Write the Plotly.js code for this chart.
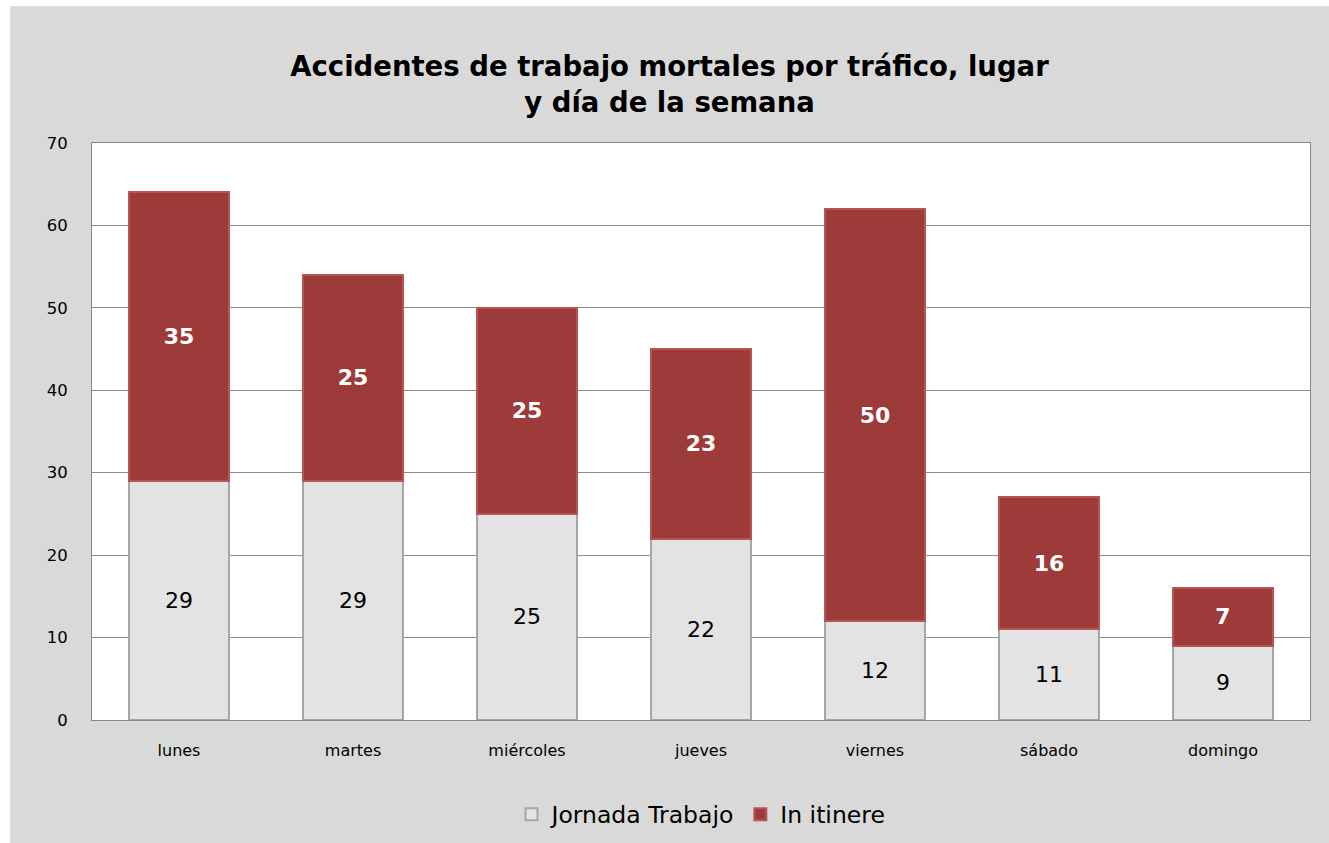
<!DOCTYPE html>
<html><head><meta charset="utf-8">
<script src="https://cdn.plot.ly/plotly-3.0.1.min.js"></script>
<style>
html,body{margin:0;padding:0;background:#fff;}
#chart{position:absolute;left:10px;top:6px;width:1319px;height:837px;}
</style></head>
<body><div id="chart"></div>
<script>
const dias = ["lunes","martes","miércoles","jueves","viernes","sábado","domingo"];
const jornadaTrabajo = [29,29,25,22,12,11,9];
const inItinere = [35,25,25,23,50,16,7];
const yTicks = [0,10,20,30,40,50,60,70];

const FONT = "DejaVu Sans, Verdana, sans-serif";

const traces = [
  {
    type: "bar", name: "Jornada Trabajo", x: dias, y: jornadaTrabajo,
    text: jornadaTrabajo.map(String), textposition: "inside", insidetextanchor: "middle",
    textfont: {family: FONT, size: 22, color: "#000"},
    marker: {color: "#e3e3e3", line: {color: "#a6a6a6", width: 2}},
    hoverinfo: "x+y+name"
  },
  {
    type: "bar", name: "In itinere", x: dias, y: inItinere,
    text: inItinere.map(v => "<b>" + v + "</b>"), textposition: "inside", insidetextanchor: "middle",
    textfont: {family: FONT, size: 22, color: "#fff"},
    marker: {color: "#9c3b39", line: {color: "#b85553", width: 2}},
    hoverinfo: "x+y+name"
  }
];

const layout = {
  barmode: "stack",
  bargap: 0.425,
  paper_bgcolor: "#d9d9d9",
  plot_bgcolor: "#ffffff",
  margin: {l: 82, r: 19, t: 137, b: 123},
  title: {
    text: "<b>Accidentes de trabajo mortales por tráfico, lugar<br>y día de la semana</b>",
    font: {family: FONT, size: 27.5, color: "#000"},
    x: 0.5, xanchor: "center", y: 0.916, yanchor: "top"
  },
  xaxis: {
    tickfont: {family: FONT, size: 16, color: "#000"},
    showline: true, linecolor: "#888", linewidth: 1, mirror: true,
    ticks: "", ticklabelstandoff: 16
  },
  yaxis: {
    range: [0, 70], tickvals: yTicks, ticktext: yTicks.map(String),
    tickfont: {family: FONT, size: 16.5, color: "#000"},
    showgrid: true, gridcolor: "#8c8c8c", gridwidth: 1,
    showline: true, linecolor: "#888", linewidth: 1, mirror: true,
    zeroline: false, ticks: "", ticklabelstandoff: 20
  },
  legend: {
    orientation: "h", x: 0.5, xanchor: "center",
    yref: "container", y: 0.034, yanchor: "middle",
    font: {family: FONT, size: 23.5, color: "#000"},
    bgcolor: "rgba(0,0,0,0)", traceorder: "normal", itemwidth: 30
  },
  showlegend: true
};

Plotly.newPlot("chart", traces, layout, {displayModeBar: false});
</script></body></html>
